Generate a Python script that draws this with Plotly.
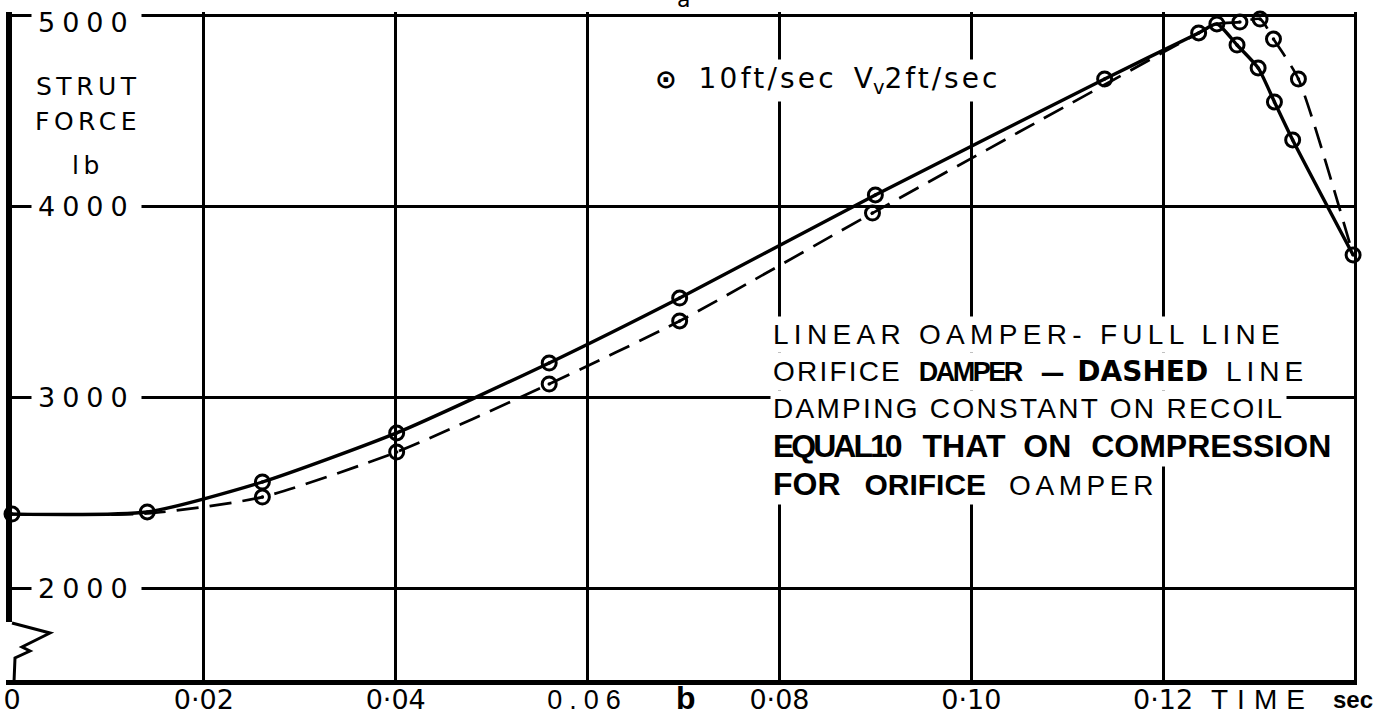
import plotly.graph_objects as go

# ---------------- data ----------------
time_linear = [0, 0.0141, 0.0261, 0.0401, 0.0560, 0.0696, 0.0900, 0.1139,
               0.1237, 0.1256, 0.1277, 0.1299, 0.1316, 0.1335, 0.1398]
force_linear = [2387, 2398, 2555, 2812, 3178, 3518, 4058, 4665,
                4906, 4953, 4843, 4723, 4545, 4346, 3744]

time_orifice = [0, 0.0141, 0.0261, 0.0401, 0.0560, 0.0696, 0.0897, 0.1139,
                0.1237, 0.1256, 0.1280, 0.1301, 0.1315, 0.1341, 0.1398]
force_orifice = [2387, 2390, 2476, 2712, 3068, 3398, 3963, 4635,
                 4906, 4953, 4963, 4979, 4874, 4665, 3744]

point_time = [0, 0.0141, 0.0261, 0.0261, 0.0401, 0.0401, 0.0560, 0.0560,
              0.0696, 0.0696, 0.0900, 0.0897, 0.1139, 0.1237, 0.1256,
              0.1280, 0.1301, 0.1277, 0.1299, 0.1316, 0.1335, 0.1315,
              0.1341, 0.1398]
point_force = [2387, 2398, 2555, 2476, 2812, 2712, 3178, 3068,
               3518, 3398, 4058, 3963, 4665, 4906, 4953,
               4963, 4979, 4843, 4723, 4545, 4346, 4874,
               4665, 3744]

x_tick_vals = [0, 0.02, 0.04, 0.06, 0.08, 0.10, 0.12]
x_tick_labels = ["0", "0·02", "0·04", "0.06", "0·08", "0·10", "0·12"]
x_edge = 0.14
y_tick_vals = [2000, 3000, 4000, 5000]
y_tick_labels = ["2000", "3000", "4000", "5000"]

y_title_lines = ["STRUT", "FORCE", "lb"]
legend_text = ("⊙", "10ft/sec", "V", "v", "2ft/sec")
note_lines = [
    ["LINEAR OAMPER- FULL LINE"],
    ["ORIFICE", "DAMPER", "—", "DASHED", "LINE"],
    ["DAMPING CONSTANT ON RECOIL"],
    ["EQUAL10", "THAT", "ON", "COMPRESSION"],
    ["FOR", "ORIFICE", "OAMPER"],
]
x_title_words = ["TIME", "sec"]
panel_labels = ["a", "b"]

# ---------------- geometry helpers ----------------
W, H = 1377, 718
ML, MR, MT, MB = 12, 20, 12, 38
PW, PH = W - ML - MR, H - MT - MB


def pxx(px):
    return (px - ML) / PW


def pxy(py):
    return (H - MB - py) / PH


def sp(text, **css):
    style = ";".join(f"{k.replace('_', '-')}:{v}" for k, v in css.items())
    return f"<span style='{style}'>{text}</span>"


HAND = "DejaVu Sans"
TYPE = "Liberation Sans"

fig = go.Figure()

fig.add_trace(go.Scatter(
    x=time_linear, y=force_linear, mode="lines",
    line=dict(color="black", width=3.4, shape="spline", smoothing=0.6),
    hoverinfo="skip"))
fig.add_trace(go.Scatter(
    x=time_orifice, y=force_orifice, mode="lines",
    line=dict(color="black", width=2.7, dash="22px,11px", shape="spline", smoothing=0.6),
    hoverinfo="skip"))
fig.add_trace(go.Scatter(
    x=point_time, y=point_force, mode="markers",
    marker=dict(symbol="circle-open", size=14, color="black",
                line=dict(color="black", width=3)),
    cliponaxis=False, hoverinfo="skip"))
fig.add_trace(go.Scatter(
    x=point_time, y=point_force, mode="markers",
    marker=dict(symbol="circle", size=3.5, color="black", line=dict(width=0)),
    cliponaxis=False, hoverinfo="skip"))

# ---------------- tick labels ----------------
ticktext = []
for lab in x_tick_labels:
    if lab == "0.06":
        ticktext.append(sp(lab, font_family=TYPE, letter_spacing="7px"))
    else:
        ticktext.append(lab)

annotations = []

# y tick labels (inside the plot, covering the grid line)
for v, lab in zip(y_tick_vals, y_tick_labels):
    annotations.append(dict(
        xref="paper", x=0, xanchor="left", xshift=19,
        yref="y", y=v, yanchor="middle", yshift=(-7 if v == 5000 else 0),
        text=sp(lab, letter_spacing="7px"),
        font=dict(family=HAND, size=27, color="black"),
        bgcolor="white", borderpad=6, showarrow=False))

# y axis title
for line, py in zip(y_title_lines, [86, 121, 165]):
    annotations.append(dict(
        xref="paper", x=pxx(88), xanchor="center",
        yref="paper", y=pxy(py), yanchor="middle",
        text=sp(line, letter_spacing="4.5px"),
        font=dict(family=HAND, size=25, color="black"),
        showarrow=False))

# legend-like key
sym, t1, v1, vsub, t2 = legend_text
annotations.append(dict(
    xref="paper", x=pxx(652), xanchor="left",
    yref="paper", y=pxy(80), yanchor="middle",
    text=(sp(sym, font_size="26px", font_weight="bold") + sp("&nbsp;&nbsp;", letter_spacing="2px")
          + sp(t1, letter_spacing="3.2px") + sp("&nbsp;", letter_spacing="8px")
          + v1 + f"<sub>{vsub}</sub>" + sp(t2, letter_spacing="3px")),
    font=dict(family=HAND, size=28, color="black"),
    bgcolor="white", borderpad=2, showarrow=False))

# note block
l1, l2, l3, l4, l5 = note_lines
note_texts = [
    (sp(l1[0], letter_spacing="5.3px"), 28),
    (sp(l2[0], letter_spacing="2.2px") + sp(" ", letter_spacing="9px")
     + sp(l2[1], font_weight="bold", font_size="27px", letter_spacing="-2.5px")
     + sp(" ", letter_spacing="12px")
     + sp(l2[2], font_family=HAND, font_weight="bold", font_size="24px")
     + sp(" ", letter_spacing="5px")
     + sp(l2[3], font_family=HAND, font_weight="bold") + sp(" ", letter_spacing="10px")
     + sp(l2[4], letter_spacing="5px"), 28),
    (sp(l3[0], letter_spacing="2.3px"), 28),
    (sp(l4[0], font_weight="bold", letter_spacing="-3px") + sp(" ", letter_spacing="14px")
     + f"<b>{l4[1]}</b>" + sp(" ", letter_spacing="9px")
     + f"<b>{l4[2]}</b>" + sp(" ", letter_spacing="11px")
     + f"<b>{l4[3]}</b>", 32),
    (f"<b>{l5[0]}</b>" + sp(" ", letter_spacing="15px")
     + sp(l5[1], font_weight="bold", font_size="30px") + sp(" ", letter_spacing="14px")
     + sp(l5[2], letter_spacing="4.6px", font_size="28px"), 32),
]
for (txt, fs), py in zip(note_texts, [334, 371, 408, 446, 484]):
    annotations.append(dict(
        xref="paper", x=pxx(770), xanchor="left",
        yref="paper", y=pxy(py), yanchor="middle",
        text=txt, align="left",
        font=dict(family=TYPE, size=fs, color="black"),
        bgcolor="white", borderpad=2, showarrow=False))

# x axis words
annotations.append(dict(
    xref="paper", x=pxx(1262), xanchor="center",
    yref="paper", y=pxy(700), yanchor="middle",
    text=sp(x_title_words[0], letter_spacing="9px"),
    font=dict(family=TYPE, size=28, color="black"), showarrow=False))
annotations.append(dict(
    xref="paper", x=pxx(1353), xanchor="center",
    yref="paper", y=pxy(699), yanchor="middle",
    text=f"<b>{x_title_words[1]}</b>",
    font=dict(family=TYPE, size=24, color="black"), showarrow=False))

# panel letters
annotations.append(dict(
    xref="paper", x=pxx(683), xanchor="center",
    yref="paper", y=pxy(14), yanchor="bottom",
    text=panel_labels[0],
    font=dict(family=HAND, size=22, color="black"), showarrow=False))
annotations.append(dict(
    xref="paper", x=pxx(686), xanchor="center",
    yref="paper", y=pxy(698), yanchor="middle",
    text=f"<b>{panel_labels[1]}</b>",
    font=dict(family=TYPE, size=32, color="black"), showarrow=False))

# axis-break zigzag on the force axis (decoration)
zig = [(12, 623), (50, 633), (22, 647), (30, 651), (15, 658), (14, 682)]
path = "M " + " L ".join(f"{pxx(a):.5f},{pxy(b):.5f}" for a, b in zig)
shapes = [
    dict(type="line", xref="paper", yref="paper",
         x0=pxx(9), x1=pxx(9), y0=pxy(622), y1=pxy(680),
         line=dict(color="white", width=9), layer="above"),
    dict(type="path", xref="paper", yref="paper", path=path,
         line=dict(color="black", width=3), layer="above"),
]

fig.update_layout(
    width=W, height=H,
    margin=dict(l=ML, r=MR, t=MT, b=MB, pad=0, autoexpand=False),
    paper_bgcolor="white", plot_bgcolor="white",
    showlegend=False,
    annotations=annotations,
    shapes=shapes,
    xaxis=dict(
        range=[0, PW / 9593.0],
        tickvals=x_tick_vals, ticktext=ticktext,
        showgrid=True, gridcolor="black", gridwidth=2.5,
        minor=dict(tickvals=[x_edge], showgrid=True, gridcolor="black", gridwidth=2.5, ticks=""),
        zeroline=False, showline=True, linecolor="black", linewidth=5,
        ticks="", tickfont=dict(family=HAND, size=27, color="black"),
        ticklabelstandoff=-8,
        automargin=False, fixedrange=True),
    yaxis=dict(
        range=[5000 - (PH - 3) / 0.191, 5000 + 3 / 0.191],
        tickvals=y_tick_vals, showticklabels=False,
        showgrid=True, gridcolor="black", gridwidth=2.5,
        zeroline=False, showline=True, linecolor="black", linewidth=6,
        ticks="inside", ticklen=20, tickwidth=2.5, tickcolor="black",
        automargin=False, fixedrange=True),
)

fig.write_html("out.html")
